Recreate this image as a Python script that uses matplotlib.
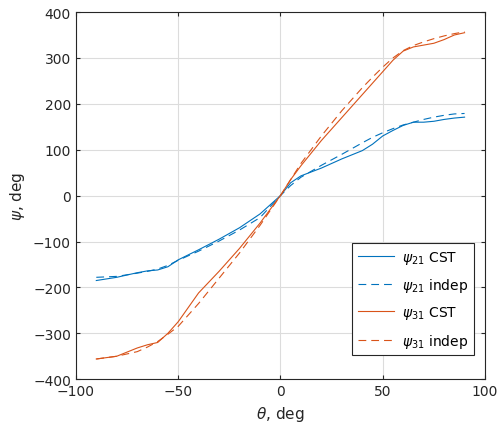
import matplotlib
matplotlib.use("Agg")
import matplotlib.pyplot as plt

theta = [-90, -80, -70, -65, -60, -55, -50, -40, -30, -20, -10, 0, 5, 10, 20, 30, 40, 45, 50, 55, 60, 65, 70, 75, 80, 85, 90]

# psi_21 CST (blue solid)
psi21_cst = [-185, -178, -168, -164, -162, -155, -140, -118, -95, -70, -40, 0, 28, 43, 60, 80, 98, 112, 130, 142, 153, 160, 160, 162, 166, 169, 171]
# psi_21 indep (blue dashed)
psi21_ind = [-178, -176, -169, -165, -160, -152, -141, -121, -99, -75, -48, 0, 22, 40, 66, 90, 115, 127, 137, 146, 154, 160, 166, 171, 175, 178, 179]
# psi_31 CST (orange solid)
psi31_cst = [-356, -350, -332, -325, -320, -300, -275, -212, -165, -115, -60, 0, 35, 65, 120, 170, 220, 245, 270, 295, 315, 324, 328, 332, 340, 350, 355]
# psi_31 indep (orange dashed)
psi31_ind = [-356, -350, -340, -330, -318, -302, -285, -235, -180, -125, -65, 0, 35, 70, 130, 185, 235, 258, 280, 300, 316, 327, 335, 342, 348, 353, 357]

c_blue = "#0072BD"
c_orange = "#D95319"
axcol = "#262626"
dash = (0, (7, 4.5))

fig = plt.figure(figsize=(4.99, 4.35), dpi=100)
ax = fig.add_axes([0.152, 0.126, 0.820, 0.844])

ax.plot(theta, psi21_cst, color=c_blue, lw=0.8, label=r"$\psi_{21}$ CST")
ax.plot(theta, psi21_ind, color=c_blue, lw=0.8, ls=dash, label=r"$\psi_{21}$ indep")
ax.plot(theta, psi31_cst, color=c_orange, lw=0.8, label=r"$\psi_{31}$ CST")
ax.plot(theta, psi31_ind, color=c_orange, lw=0.8, ls=dash, label=r"$\psi_{31}$ indep")

ax.set_xlim(-100, 100)
ax.set_ylim(-400, 400)
ax.set_xticks([-100, -50, 0, 50, 100])
ax.set_yticks(range(-400, 401, 100))
ax.grid(True, color="#dcdcdc", lw=0.8)
ax.set_axisbelow(True)
for s in ax.spines.values():
    s.set_color(axcol)
    s.set_linewidth(0.8)
ax.tick_params(direction="in", top=True, right=True, colors=axcol, labelsize=10, length=3)
ax.set_xlabel(r"$\theta$, deg", fontsize=11, color=axcol)
ax.set_ylabel(r"$\psi$, deg", fontsize=11, color=axcol)

leg = ax.legend(loc="lower right", bbox_to_anchor=(0.973, 0.065), fontsize=10,
                frameon=True, fancybox=False, framealpha=1,
                edgecolor=axcol, handlelength=2.6, borderaxespad=0,
                labelspacing=0.75, handletextpad=0.6)
leg.get_frame().set_linewidth(0.8)

fig.savefig("out.png", dpi=100)
